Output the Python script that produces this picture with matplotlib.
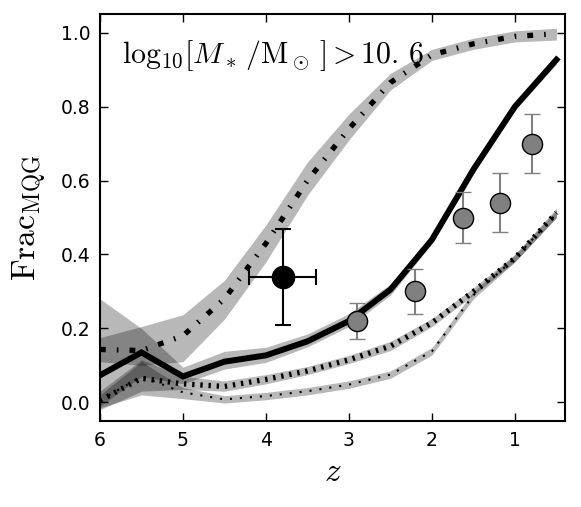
import numpy as np
import matplotlib
matplotlib.use("Agg")
import matplotlib.pyplot as plt

plt.rcParams['mathtext.fontset'] = 'cm'
plt.rcParams['font.family'] = 'DejaVu Sans'

# model redshift grid
z = [6, 5.5, 5, 4.5, 4, 3.5, 3, 2.5, 2, 1.5, 1, 0.5]

# upper model (square / tick pattern)
upper = [0.143, 0.14, 0.18, 0.28, 0.43, 0.60, 0.74, 0.865, 0.94, 0.97, 0.99, 0.997]
upper_lo = [0.11, 0.10, 0.11, 0.225, 0.38, 0.56, 0.71, 0.845, 0.925, 0.955, 0.975, 0.98]
upper_hi = [0.175, 0.205, 0.237, 0.33, 0.48, 0.65, 0.78, 0.89, 0.955, 0.985, 1.005, 1.012]

# solid model
solid = [0.073, 0.135, 0.07, 0.11, 0.127, 0.165, 0.22, 0.305, 0.44, 0.63, 0.80, 0.927]
solid_lo = [-0.01, 0.07, 0.05, 0.09, 0.108, 0.15, 0.205, 0.29, 0.43, 0.62, 0.79, 0.915]
solid_hi = [0.28, 0.20, 0.095, 0.138, 0.149, 0.185, 0.24, 0.32, 0.45, 0.64, 0.81, 0.935]

# thick tick-dashed model
mid = [0.005, 0.065, 0.05, 0.043, 0.062, 0.085, 0.115, 0.152, 0.215, 0.30, 0.39, 0.513]
mid_lo = [-0.02, 0.03, 0.035, 0.03, 0.05, 0.075, 0.105, 0.14, 0.205, 0.29, 0.38, 0.50]
mid_hi = [0.03, 0.115, 0.07, 0.058, 0.075, 0.097, 0.127, 0.165, 0.227, 0.31, 0.40, 0.525]

# thin dotted model
low = [0.005, 0.07, 0.027, 0.008, 0.017, 0.03, 0.048, 0.075, 0.138, 0.29, 0.39, 0.51]
low_lo = [-0.015, 0.02, 0.01, -0.002, 0.007, 0.02, 0.038, 0.065, 0.128, 0.28, 0.38, 0.50]
low_hi = [0.02, 0.11, 0.04, 0.018, 0.027, 0.04, 0.058, 0.085, 0.148, 0.30, 0.40, 0.52]

# observations
obs_z = [2.90, 2.20, 1.62, 1.18, 0.80]
obs_f = [0.22, 0.30, 0.50, 0.54, 0.70]
obs_up = [0.05, 0.06, 0.07, 0.08, 0.08]
obs_dn = [0.05, 0.06, 0.07, 0.08, 0.08]

hz_z = [3.8]
hz_f = [0.34]
hz_zerr = [0.4]
hz_ferr = [0.13]

fig = plt.figure(figsize=(5.81, 5.07), dpi=100)
ax = fig.add_axes([0.172, 0.170, 0.8, 0.802])

band_kw = dict(color='k', alpha=0.28, linewidth=0)
ax.fill_between(z, upper_lo, upper_hi, **band_kw)
ax.fill_between(z, solid_lo, solid_hi, **band_kw)
ax.fill_between(z, mid_lo, mid_hi, **band_kw)
ax.fill_between(z, low_lo, low_hi, **band_kw)

ax.plot(z, upper, color='k', lw=3.8, linestyle=(0, (1.1, 2.1, 0.3, 2.1)))
ax.plot(z, solid, color='k', lw=4.3, solid_joinstyle='miter')
ax.plot(z, mid, color='k', lw=3.8, linestyle=(0, (0.45, 1.1)))
ax.plot(z, low, color='k', lw=1.5, linestyle=(0, (1, 3.8)))

ax.errorbar(obs_z, obs_f, yerr=[obs_dn, obs_up], fmt='o', ms=14.5,
            mfc='0.5', mec='k', mew=1, ecolor='0.5', elinewidth=1.5,
            capsize=6, capthick=1.5, zorder=5)
ax.errorbar(hz_z, hz_f, xerr=hz_zerr, yerr=hz_ferr, fmt='o', ms=16,
            mfc='k', mec='k', ecolor='k', elinewidth=1.5,
            capsize=6, capthick=1.5, zorder=6)

ax.text(0.047, 0.94, r'$\mathrm{log}_{10}[M_*\,/\mathrm{M}_\odot\,]>10.\,6$',
        transform=ax.transAxes, fontsize=21.5, ha='left', va='top')

ax.set_xlim(6, 0.4)
ax.set_ylim(-0.05, 1.05)
ax.set_xticks([6, 5, 4, 3, 2, 1])
ax.set_yticks([0.0, 0.2, 0.4, 0.6, 0.8, 1.0])
ax.set_yticklabels(['0.0', '0.2', '0.4', '0.6', '0.8', '1.0'])
ax.tick_params(direction='in', length=6, width=1, labelsize=13.5,
               top=True, right=True, pad=7)
for s in ax.spines.values():
    s.set_linewidth(1.5)

ax.set_xlabel(r'$z$', fontsize=24, labelpad=4)
ax.set_ylabel(r'$\mathrm{Frac}_{\mathrm{MQG}}$', fontsize=24, labelpad=8)

fig.savefig('out.png', dpi=100)
